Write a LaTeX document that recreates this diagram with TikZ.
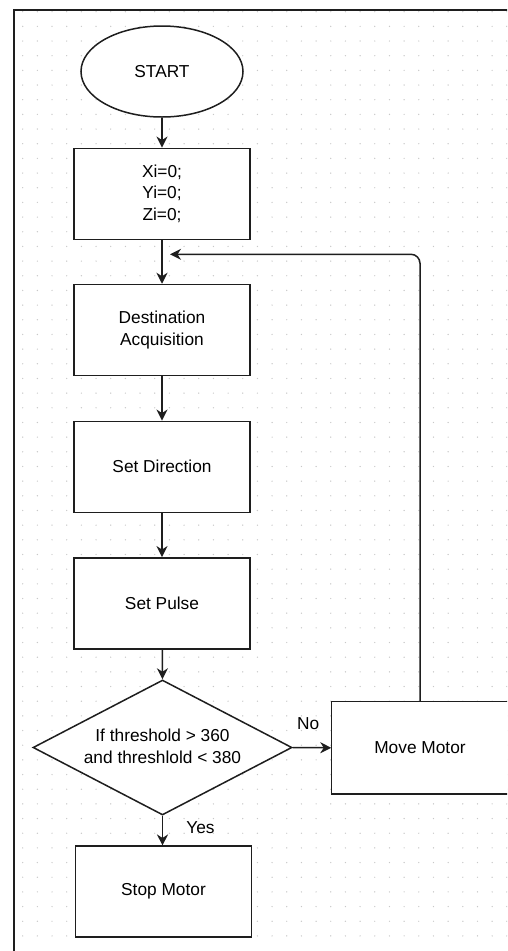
\documentclass[tikz,border=0pt]{standalone}
\usepackage{fontspec}
\setmainfont{Liberation Sans}
\usetikzlibrary{shapes.geometric,arrows.meta}
\definecolor{ln}{HTML}{1E1E1E}
\definecolor{dotc}{HTML}{C8C8C8}
\begin{document}
\begin{tikzpicture}[x=1pt,y=-1pt,
  every node/.style={font=\fontsize{17.3}{21.9}\selectfont, text=black},
  proc/.style={draw=ln, line width=1.5pt, fill=white, minimum width=176pt, minimum height=91pt, inner sep=0pt, align=center},
  term/.style={draw=ln, line width=1.5pt, fill=white, ellipse, minimum width=162pt, minimum height=91pt, inner sep=0pt},
  decis/.style={draw=ln, line width=1.5pt, fill=white, diamond, aspect=1.92, minimum width=259pt, minimum height=135pt, inner sep=0pt, align=center},
  conn/.style={draw=ln, line width=1.5pt, -{Stealth[length=11pt,width=11pt,inset=3.5pt]}},
  lbl/.style={inner sep=0pt}]
\useasboundingbox (0,0) rectangle (507,951);
\clip (0,0) rectangle (507,951);
\fill[white] (0,0) rectangle (507,951);
% dot grid
\foreach \i in {0,...,33}{
  \foreach \j in {0,...,63}{
    \fill[dotc] (22.7+\i*14.67, 11.7+\j*14.67) circle (0.7);
  }
}
% frame
\draw[ln, line width=2pt] (13.5,951) -- (13.5,10) -- (510,10);
% nodes
\node[term] (start) at (162,71.5) {START};
\node[proc] (init) at (162,193.8) {Xi=0;\\Yi=0;\\Zi=0;};
\node[proc] (dest) at (162,330) {Destination\\Acquisition};
\node[proc] (dir) at (162,466.8) {Set Direction};
\node[proc] (pulse) at (162,603.3) {Set Pulse};
\node[decis] (dec) at (162.5,747.5) {};
\node[align=center, inner sep=0pt] (dectext) at (162.5,746) {If threshold > 360\\and threshlold < 380};
\node[proc, draw=none] (move) at (420,747.8) {Move Motor};
\draw[ln, line width=1.5pt] ([xshift=20pt]move.north east) -- (move.north west) -- (move.south west) -- ([xshift=20pt]move.south east);
\node[proc] (stop) at (163.5,891.7) {Stop Motor};
\coordinate (fb) at (170,254.3);
\coordinate (fbtop) at (420,254.3);
% connectors
\draw[conn] (start) -- (init);
\draw[conn] (init) -- (dest);
\draw[conn] (dest) -- (dir);
\draw[conn] (dir) -- (pulse);
\draw[conn] (pulse) -- (dec.north);
\draw[conn] (dec.east) -- node[lbl, pos=0.4, yshift=24pt]{No} (move.west);
\draw[conn] (dec.south) -- node[lbl, pos=0.39, xshift=38pt]{Yes} (dec.south |- stop.north);
\draw[conn, rounded corners=9pt] (move.north) -- (fbtop) -- (fb);
\end{tikzpicture}
\end{document}
